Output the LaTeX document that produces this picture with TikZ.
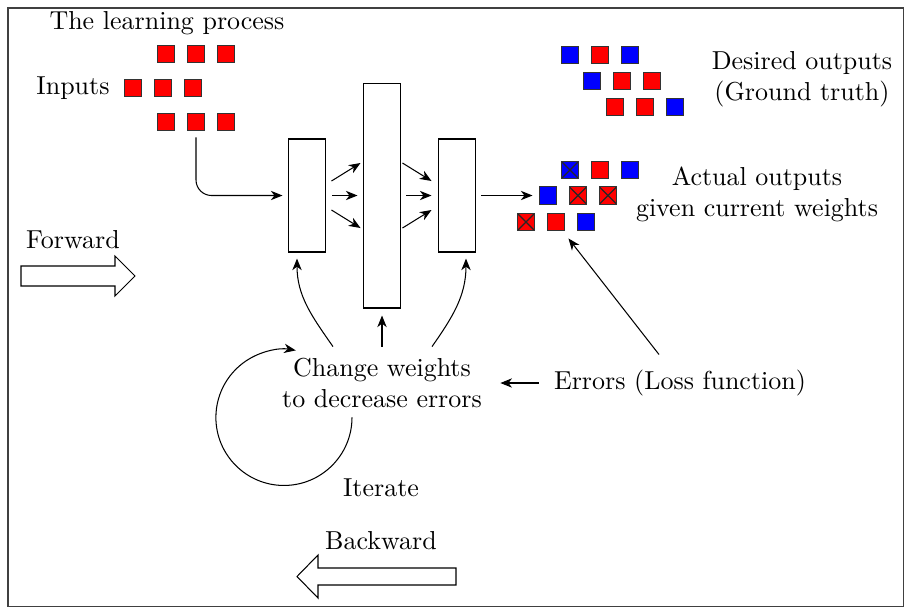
\documentclass[tikz,border=0pt]{standalone}
\usetikzlibrary{arrows.meta,calc}
\begin{document}
\begin{tikzpicture}[x=0.385pt,y=-0.385pt,
  >={Stealth[length=4.5pt,width=3.6pt,inset=1.4pt]},
  txt/.style={inner sep=0pt, align=center},
  sq/.style={draw=black!80, line width=0.4pt, minimum size=6.9pt, inner sep=0pt},
  rsq/.style={sq, fill=red},
  bsq/.style={sq, fill=blue},
  xsq/.style={path picture={\draw[black!85, line width=0.5pt]
      (path picture bounding box.north west) -- (path picture bounding box.south east)
      (path picture bounding box.north east) -- (path picture bounding box.south west);}},
  layer/.style={draw=black, fill=white, minimum width=14.6pt, inner sep=0pt},
  blockarrow/.style={draw=black, fill=white, line width=0.4pt}
]
\useasboundingbox (0,0) rectangle (905,609);
\draw[black!75, line width=0.6pt] (8,8) rectangle (903.5,606.5);

% title
\node[txt] (title) at (167,23) {The learning process};

% inputs
\node[txt] (inlab) at (73,88) {Inputs};
\node[rsq] (i11) at (166,54) {};
\node[rsq] (i12) at (196,54) {};
\node[rsq] (i13) at (226,54) {};
\node[rsq] (i21) at (133,88) {};
\node[rsq] (i22) at (163,88) {};
\node[rsq] (i23) at (193,88) {};
\node[rsq] (i31) at (166,122) {};
\node[rsq] (i32) at (196,122) {};
\node[rsq] (i33) at (226,122) {};

% network layers
\node[layer, minimum height=43.5pt] (b1) at (307,195.5) {};
\node[layer, minimum height=86.6pt] (b2) at (382,195.5) {};
\node[layer, minimum height=43.5pt] (b3) at (457,195.5) {};

\draw[->, rounded corners=6pt] ([shift={(0,6)}]i32.south) |- ([shift={(-5,0)}]b1.west);

\draw[->] ([shift={(5,-14.5)}]b1.east) -- ([shift={(-2,-32.5)}]b2.west);
\draw[->] ([shift={(6,0)}]b1.east) -- ([shift={(-5,0)}]b2.west);
\draw[->] ([shift={(5,14.5)}]b1.east) -- ([shift={(-2,32.5)}]b2.west);

\draw[->] ([shift={(1,-32.5)}]b2.east) -- ([shift={(-6,-14.5)}]b3.west);
\draw[->] ([shift={(5,0)}]b2.east) -- ([shift={(-6,0)}]b3.west);
\draw[->] ([shift={(1,32.5)}]b2.east) -- ([shift={(-6,14.5)}]b3.west);

% desired outputs
\node[bsq] (d11) at (570,55) {};
\node[rsq] (d12) at (600,55) {};
\node[bsq] (d13) at (630,55) {};
\node[bsq] (d21) at (592,81) {};
\node[rsq] (d22) at (622,81) {};
\node[rsq] (d23) at (652,81) {};
\node[rsq] (d31) at (615,107) {};
\node[rsq] (d32) at (645,107) {};
\node[bsq] (d33) at (675,107) {};
\node[txt] (deslab) at (802,79) {Desired outputs\\(Ground truth)};

% actual outputs
\node[bsq, xsq] (a11) at (570,170) {};
\node[rsq] (a12) at (600,170) {};
\node[bsq] (a13) at (630,170) {};
\node[bsq] (a21) at (548,195.5) {};
\node[rsq, xsq] (a22) at (578,195.5) {};
\node[rsq, xsq] (a23) at (608,195.5) {};
\node[rsq, xsq] (a31) at (526,222) {};
\node[rsq] (a32) at (556,222) {};
\node[bsq] (a33) at (586,222) {};
\node[txt] (actlab) at (757,194) {Actual outputs\\given current weights};

\draw[->] ([shift={(5,0)}]b3.east) -- ([shift={(-6,0)}]a21.west);

% change weights
\node[txt] (cw) at (382,383) {Change weights\\to decrease errors};
\node[txt] (err) at (680,383) {Errors (Loss function)};
\draw[->] ([shift={(-15,0)}]err.west) -- ([shift={(18,0)}]cw.east);
\draw[->] ([shift={(-21,-15)}]err.north) -- ([shift={(3,7)}]a32.south east);

\draw[->] ([shift={(-49,-11)}]cw.north) to[out=125,in=-90] ([shift={(-10,6)}]b1.south);
\draw[->] ([shift={(0,-11)}]cw.north) -- ([shift={(0,7)}]b2.south);
\draw[->] ([shift={(50,-11)}]cw.north) to[out=55,in=-90] ([shift={(9,6)}]b3.south);

% iterate loop
\draw[->] ([shift={(-30,9)}]cw.south) arc[start angle=0, end angle=-280, radius=26.2pt];
\node[txt] (iter) at (381,488) {Iterate};

% forward / backward
\node[txt] (fwd) at (73,240) {Forward};
\draw[blockarrow] (21,266) -- (115,266) -- (115,256) -- (135,276) -- (115,296) -- (115,286) -- (21,286) -- cycle;
\node[txt] (bwd) at (381,541) {Backward};
\draw[blockarrow] (456,568) -- (318,568) -- (318,555) -- (297,576.5) -- (318,598) -- (318,585) -- (456,585) -- cycle;
\end{tikzpicture}
\end{document}
